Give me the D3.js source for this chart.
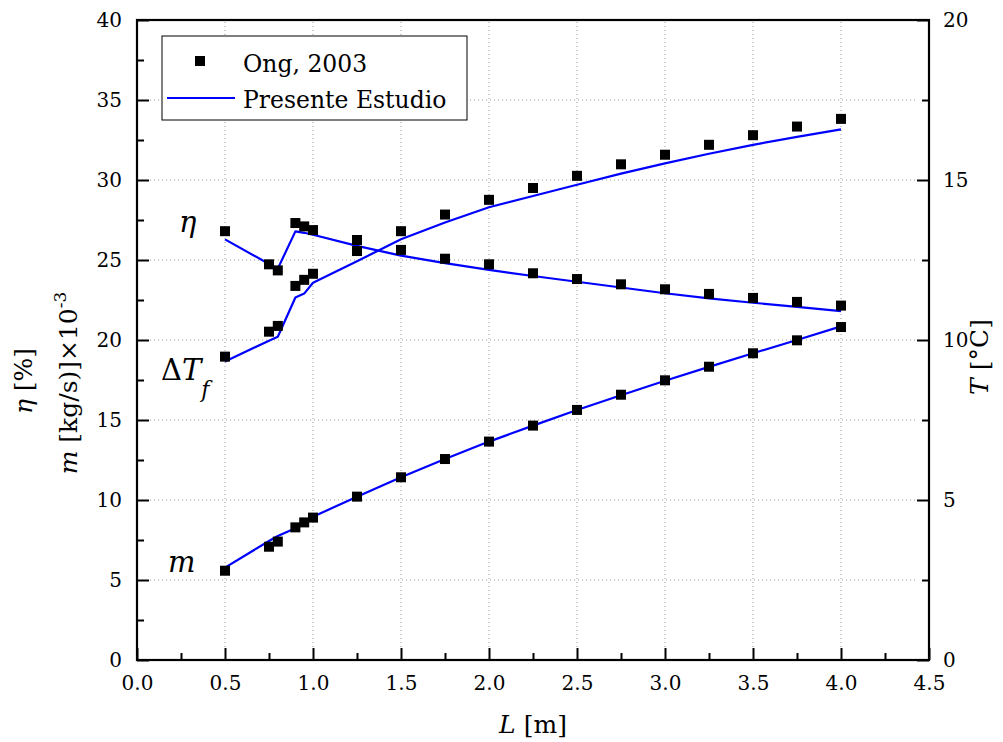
<!DOCTYPE html>
<html><head><meta charset="utf-8">
<script src="https://cdn.jsdelivr.net/npm/d3@7"></script>
<style>
body{margin:0;background:#fff;}
svg text{font-family:"DejaVu Serif","Liberation Serif",serif;fill:#000;}
</style></head>
<body><svg id="c" width="1003" height="742"></svg>
<script>
// ---- data ----
const L_exp = [0.5,0.75,0.8,0.9,0.95,1.0,1.25,1.5,1.75,2.0,2.25,2.5,2.75,3.0,3.25,3.5,3.75,4.0];
const eta_exp = [26.8,24.73,24.35,27.31,27.1,26.87,26.25,25.63,25.08,24.73,24.17,23.81,23.48,23.17,22.88,22.63,22.38,22.15];
const dT_exp = [9.48,10.26,10.44,11.69,11.88,12.07,12.78,13.40,13.92,14.38,14.75,15.13,15.49,15.79,16.10,16.40,16.67,16.91];
const m_exp = [5.58,7.08,7.40,8.29,8.60,8.90,10.21,11.42,12.56,13.65,14.65,15.63,16.58,17.48,18.33,19.17,19.98,20.81];

const L_mod = [0.5,0.75,0.8,0.9,0.95,1.0,1.25,1.5,1.75,2.0,2.25,2.5,2.75,3.0,3.25,3.5,3.75,4.0];
const eta_mod = [26.29,24.75,24.46,26.79,26.7,26.58,25.88,25.27,24.8,24.38,24.0,23.64,23.28,22.92,22.6,22.33,22.07,21.81];
const dT_mod = [9.33,9.98,10.1,11.33,11.45,11.79,12.46,13.15,13.67,14.15,14.5,14.85,15.2,15.52,15.82,16.1,16.35,16.58];
const m_mod = [5.77,7.44,7.75,8.23,8.54,8.96,10.2,11.42,12.56,13.65,14.65,15.62,16.55,17.45,18.32,19.17,20.0,20.85];

const xTicks = [0,0.5,1,1.5,2,2.5,3,3.5,4,4.5];
const xMinor = [0.25,0.75,1.25,1.75,2.25,2.75,3.25,3.75,4.25];
const yLTicks = [0,5,10,15,20,25,30,35,40];
const yLMinor = [2.5,7.5,12.5,17.5,22.5,27.5,32.5,37.5];
const yRTicks = [0,5,10,15,20];
const yRMinor = [2.5,7.5,12.5,17.5];
const legendLabels = ["Ong, 2003","Presente Estudio"];

// ---- layout ----
const FONT = '"DejaVu Serif","Liberation Serif",serif';
const svg = d3.select("#c");
const X0=137, X1=929, Y0=660, Y1=20;
const x = d3.scaleLinear().domain([0,4.5]).range([X0,X1]);
const yL = d3.scaleLinear().domain([0,40]).range([Y0,Y1]);
const yR = d3.scaleLinear().domain([0,20]).range([Y0,Y1]);

// grid
const grid = svg.append("g").attr("stroke","#999").attr("stroke-width",1).attr("stroke-dasharray","1,3");
xTicks.filter(v=>v>0&&v<4.5).forEach(v=>{
  grid.append("line").attr("x1",x(v)).attr("x2",x(v)).attr("y1",Y1+2).attr("y2",Y0-13);
});
yLTicks.filter(v=>v>0&&v<40).forEach(v=>{
  grid.append("line").attr("x1",X0+13).attr("x2",X1-13).attr("y1",yL(v)).attr("y2",yL(v));
});

function styleAxis(g){
  g.attr("font-family",null).attr("font-size",null);
  g.select(".domain").remove();
  g.selectAll(".tick line").attr("stroke","#000").attr("stroke-width",2);
  g.selectAll("text").attr("font-size",20).style("font-family",FONT);
}
// bottom
svg.append("g").attr("transform",`translate(0,${Y0})`)
  .call(d3.axisBottom(x).tickValues(xTicks).tickFormat(d3.format(".1f")).tickSize(-12).tickPadding(16))
  .call(styleAxis);
svg.append("g").attr("transform",`translate(0,${Y0})`)
  .call(d3.axisBottom(x).tickValues(xMinor).tickFormat("").tickSize(-7)).call(styleAxis);
// left
svg.append("g").attr("transform",`translate(${X0},0)`)
  .call(d3.axisLeft(yL).tickValues(yLTicks).tickFormat(d3.format("d")).tickSize(-12).tickPadding(15))
  .call(styleAxis);
svg.append("g").attr("transform",`translate(${X0},0)`)
  .call(d3.axisLeft(yL).tickValues(yLMinor).tickFormat("").tickSize(-7)).call(styleAxis);
// right
svg.append("g").attr("transform",`translate(${X1},0)`)
  .call(d3.axisRight(yR).tickValues(yRTicks).tickFormat(d3.format("d")).tickSize(-12).tickPadding(14))
  .call(styleAxis);
svg.append("g").attr("transform",`translate(${X1},0)`)
  .call(d3.axisRight(yR).tickValues(yRMinor).tickFormat("").tickSize(-7)).call(styleAxis);

// frame
svg.append("rect").attr("x",X0).attr("y",Y1).attr("width",X1-X0).attr("height",Y0-Y1)
  .attr("fill","none").attr("stroke","#000").attr("stroke-width",2.2);

// lines
const blue="#0000ff";
function drawLine(xs,ys,sc){
  const pts = xs.map((v,i)=>[x(v),sc(ys[i])]);
  svg.append("path").attr("d",d3.line()(pts)).attr("fill","none").attr("stroke",blue).attr("stroke-width",2.2).attr("stroke-linejoin","round");
}
drawLine(L_mod,eta_mod,yL);
drawLine(L_mod,dT_mod,yR);
drawLine(L_mod,m_mod,yL);

// markers
function drawPts(xs,ys,sc){
  svg.append("g").selectAll("rect").data(xs).join("rect")
    .attr("x",(d)=>x(d)-5).attr("y",(d,i)=>sc(ys[i])-5).attr("width",10).attr("height",10).attr("fill","#000");
}
drawPts(L_exp,eta_exp,yL);
drawPts(L_exp,dT_exp,yR);
drawPts(L_exp,m_exp,yL);

// legend
const lg = svg.append("g");
lg.append("rect").attr("x",162).attr("y",36).attr("width",305).attr("height",84).attr("fill","#fff").attr("stroke","#000").attr("stroke-width",1);
lg.append("rect").attr("x",195).attr("y",56).attr("width",10).attr("height",10).attr("fill","#000");
lg.append("line").attr("x1",167).attr("x2",235).attr("y1",98).attr("y2",98).attr("stroke",blue).attr("stroke-width",2.2);
lg.append("text").attr("x",243).attr("y",72).attr("font-size",23.5).text(legendLabels[0]);
lg.append("text").attr("x",243).attr("y",108).attr("font-size",23.5).text(legendLabels[1]);

// axis titles
const xt = svg.append("text").attr("x",533).attr("y",733).attr("text-anchor","middle").attr("font-size",25);
xt.append("tspan").attr("font-style","italic").text("L");
xt.append("tspan").text(" [m]");

const t1 = svg.append("text").attr("transform","translate(32,381) rotate(-90)").attr("text-anchor","middle").attr("font-size",25);
t1.append("tspan").attr("font-style","italic").text("η");
t1.append("tspan").text(" [%]");

const t2 = svg.append("text").attr("transform","translate(77,383) rotate(-90)").attr("text-anchor","middle").attr("font-size",25);
t2.append("tspan").attr("font-style","italic").text("m");
t2.append("tspan").text(" [kg/s)]×10");
t2.append("tspan").attr("font-size",17).attr("dy",-11).text("-3");

const t3 = svg.append("text").attr("transform","translate(988,357) rotate(-90)").attr("text-anchor","middle").attr("font-size",25);
t3.append("tspan").attr("font-style","italic").text("T");
t3.append("tspan").text(" [°C]");

// in-plot labels
svg.append("text").attr("x",179).attr("y",232).attr("font-size",29).attr("font-style","italic").text("η");
const dl = svg.append("text").attr("x",161).attr("y",380).attr("font-size",29);
dl.append("tspan").text("Δ");
dl.append("tspan").attr("font-style","italic").text("T");
dl.append("tspan").attr("font-style","italic").attr("font-size",22).attr("dy",17).text("f");
svg.append("text").attr("x",168).attr("y",572).attr("font-size",29).attr("font-style","italic").text("m");
</script></body></html>
